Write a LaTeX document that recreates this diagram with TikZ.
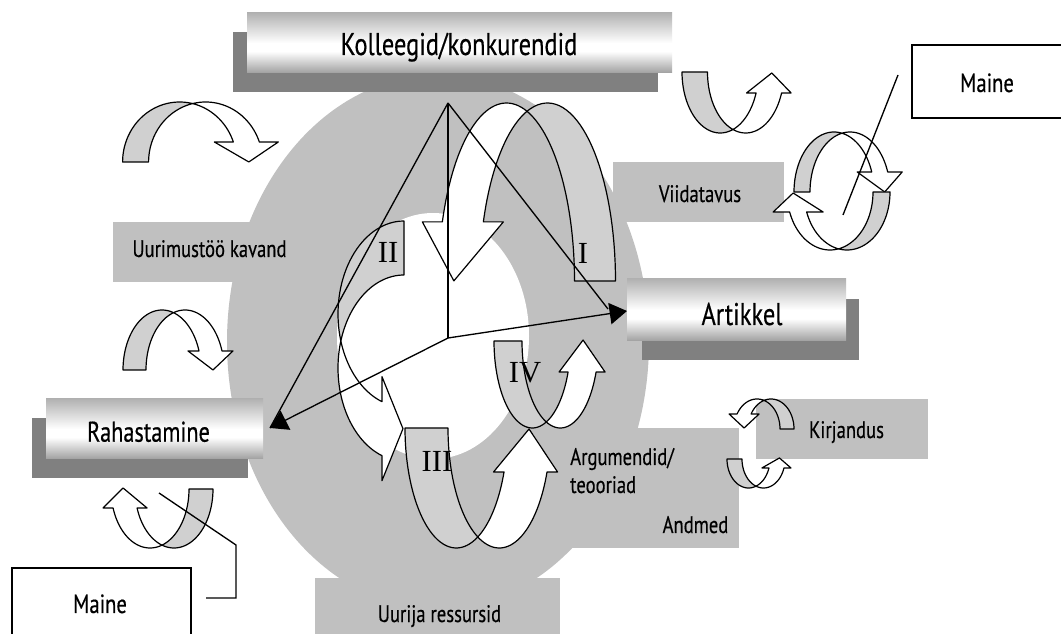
\documentclass[tikz,border=0pt]{standalone}
\usepackage{fontspec}
\setmainfont{PT Sans}
\newfontfamily\labfont[FakeStretch=0.78,FakeBold=0.4]{PT Sans}
\newfontfamily\romfont{Liberation Serif}
\usetikzlibrary{arrows.meta}
\definecolor{ringgray}{HTML}{C0C0C0}
\definecolor{bandgray}{HTML}{D0D0D0}
\definecolor{shadowgray}{HTML}{808080}
\definecolor{cyltop}{HTML}{B2B2B2}
\definecolor{cylbot}{HTML}{A0A0A0}
\pgfdeclareverticalshading{cylshade}{100bp}{color(0bp)=(cylbot); color(25bp)=(cylbot); color(43bp)=(white); color(50bp)=(white); color(75bp)=(cyltop); color(100bp)=(cyltop)}

% #1 transform, #2 a, #3 b, #4 offset d, #5 tail angle, #6 head angle, #7 head ext, #8 tip dx, #9 head length
\newcommand{\ribarrow}[9]{%
  \begin{scope}[#1]
    \pgfmathsetmacro\rtc{acos(#4/(2*#2))}
    \pgfmathsetmacro\rtcb{180-\rtc}
    \pgfmathsetmacro\rhy{#3*sin(#6)}
    \pgfmathsetmacro\rhxi{#2*cos(#6)}
    \pgfmathsetmacro\rhxo{#4+#2*cos(#6)}
    \filldraw[ribshade] plot[domain=\rtc:#5,samples=36] ({#2*cos(\x)},{#3*sin(\x)})
      -- plot[domain=#5:\rtcb,samples=36] ({#4+#2*cos(\x)},{#3*sin(\x)}) -- cycle;
    \filldraw[ribwhite] plot[domain=\rtc:#6,samples=36] ({#2*cos(\x)},{#3*sin(\x)})
      -- ({\rhxi-#7},{\rhy}) -- ({(\rhxi+\rhxo)/2+#8},{\rhy-#9}) -- ({\rhxo+#7},{\rhy}) -- ({\rhxo},{\rhy})
      -- plot[domain=#6:\rtcb,samples=36] ({#4+#2*cos(\x)},{#3*sin(\x)}) -- cycle;
  \end{scope}}

\tikzset{
  ribshade/.style={fill=bandgray, draw=black, line width=0.9pt, line join=round},
  ribwhite/.style={fill=white, draw=black, line width=0.9pt, line join=round},
  labelbox/.style={fill=ringgray, draw=none, inner sep=0pt, outer sep=0pt},
  shadowbox/.style={fill=shadowgray, draw=none, inner sep=0pt, outer sep=0pt},
  cylbox/.style={shading=cylshade, draw=none, inner sep=0pt, outer sep=0pt},
  whitebox/.style={fill=white, draw=black, line width=1pt, inner sep=0pt, outer sep=0pt},
  conn/.style={draw=black, line width=1pt},
  arrowconn/.style={conn, -{Triangle[length=13pt,width=16pt]}},
  bigtxt/.style={font=\labfont\fontsize{23.5}{28}\selectfont, anchor=base, inner sep=0pt},
  medtxt/.style={font=\labfont\fontsize{21.4}{26}\selectfont, anchor=base, inner sep=0pt},
  mainetxt/.style={font=\labfont\fontsize{19.8}{24}\selectfont, anchor=base, inner sep=0pt},
  smalltxt/.style={font=\labfont\fontsize{17.9}{22}\selectfont, anchor=base, inner sep=0pt},
  romtxt/.style={font=\romfont\fontsize{23}{28}\selectfont, anchor=base, inner sep=0pt},
}

\begin{document}
\begin{tikzpicture}[x=0.75pt,y=0.75pt]
\useasboundingbox (0,0) rectangle (1061,-634);
\fill[white] (0,0) rectangle (1061,-634);

% ring
\fill[ringgray] (438,-342) ellipse [x radius=158.25pt, y radius=200.25pt];
\fill[white] (433,-336) ellipse [x radius=72pt, y radius=92.25pt];

% gray label boxes
\node[labelbox, minimum width=140.25pt, minimum height=45pt] (kavbox) at (206.5,-252) {};
\node[labelbox, minimum width=128.25pt, minimum height=45pt] (viibox) at (698.5,-192) {};
\node[labelbox, minimum width=129pt, minimum height=45pt] (kirbox) at (842,-429) {};
\node[labelbox, minimum width=134.25pt, minimum height=90pt] (argbox) at (649.5,-488) {};
\node[labelbox, minimum width=183.75pt, minimum height=42pt] (uurbox) at (437.5,-606) {};

% shadowed cylinder boxes
\node[shadowbox, minimum width=318.75pt, minimum height=45pt] (kolshadow) at (445.5,-62) {};
\node[cylbox, minimum width=318.75pt, minimum height=45pt] (kolbox) at (459.5,-43) {};
\node[shadowbox, minimum width=162.75pt, minimum height=45.75pt] (artshadow) at (750.5,-329.5) {};
\node[cylbox, minimum width=164.25pt, minimum height=46.5pt] (artbox) at (736.5,-310) {};
\node[shadowbox, minimum width=162pt, minimum height=45pt] (rahshadow) at (140,-448) {};
\node[cylbox, minimum width=162.75pt, minimum height=45pt] (rahbox) at (154.5,-429) {};

% white Maine boxes
\node[whitebox, minimum width=118.5pt, minimum height=54.75pt] (mainetr) at (991,-81.5) {};
\node[whitebox, minimum width=134.25pt, minimum height=54pt] (mainebl) at (101.5,-604) {};

% ribbon arrows
\ribarrow{shift={(547.5,-281)}, xscale=-1}{68}{178}{41}{180}{19.4}{20}{9}{59}
\ribarrow{shift={(179.6,-162)}}{57}{60}{26}{180}{19.5}{19}{2.5}{20}
\ribarrow{shift={(162,-370)}}{39}{60}{23}{180}{18.5}{11}{2.5}{19}
\ribarrow{shift={(404,-314)}, rotate=90, xscale=-1}{93}{66}{54}{180}{19.5}{25}{0}{21}
\ribarrow{shift={(456.3,-428)}, yscale=-1}{51.3}{120}{43}{180}{21.5}{10.5}{3.5}{43}
\ribarrow{shift={(532.3,-341)}, yscale=-1}{38.3}{87}{28}{180}{20.9}{9}{1}{32}
\ribarrow{shift={(720.2,-72)}, yscale=-1}{38.2}{61}{25.5}{180}{20.1}{9.5}{3}{20}
\ribarrow{shift={(174,-489)}, rotate=180}{39}{59}{24}{180}{18.8}{10}{2}{20}
\ribarrow{shift={(834,-192)}}{40}{60}{16}{180}{19.5}{14.5}{5}{20}
\ribarrow{shift={(847,-192)}, rotate=180}{43}{58}{17}{180}{20.2}{16.5}{5}{19}
\ribarrow{shift={(771,-429)}, xscale=-1}{23}{30}{14}{180}{30}{8}{0}{14}
\ribarrow{shift={(748.5,-459)}, yscale=-1}{21.5}{29}{15}{180}{18}{7}{3}{10}

% connectors
\coordinate (apex) at (448,-103);
\coordinate (hub) at (448,-338);
\coordinate (arttip) at (627,-311);
\coordinate (artbase) at (608,-309);
\coordinate (rahtip) at (270,-428);
\draw[conn] (apex) -- (hub);
\draw[conn] (apex) -- (rahtip);
\draw[conn] (apex) -- (artbase);
\draw[arrowconn] (hub) -- (arttip);
\draw[arrowconn] (hub) -- (rahtip);

\coordinate (mtr1) at (898,-75);
\coordinate (mtr2) at (843,-215);
\draw[conn] (mtr1) -- (mtr2);
\coordinate (mbl1) at (206,-598);
\coordinate (mbl2) at (236,-598);
\coordinate (mbl3) at (236,-545);
\coordinate (mbl4) at (159,-493);
\draw[conn] (mbl1) -- (mbl2) -- (mbl3) -- (mbl4);

% texts
\node[bigtxt] (koltext) at (459,-55) {Kolleegid/konkurendid};
\node[bigtxt] (arttext) at (742,-325) {Artikkel};
\node[medtxt] (rahtext) at (148.5,-441.7) {Rahastamine};
\node[mainetxt] (mainetrtext) at (987,-92) {Maine};
\node[mainetxt] (mainebltext) at (100,-613) {Maine};
\node[smalltxt] (kavtext) at (209.5,-257) {Uurimustöö kavand};
\node[smalltxt] (viitext) at (700,-202) {Viidatavus};
\node[smalltxt] (kirtext) at (846.5,-438) {Kirjandus};
\node[smalltxt, anchor=base west] (argtext) at (570,-465) {Argumendid/};
\node[smalltxt, anchor=base west] (teotext) at (570,-493) {teooriad};
\node[smalltxt] (andtext) at (695.5,-533) {Andmed};
\node[smalltxt] (uurtext) at (439.5,-622) {Uurija ressursid};
\node[romtxt] (romII) at (388,-263) {II};
\node[romtxt] (romI) at (583,-264) {I};
\node[romtxt] (romIII) at (437,-472) {III};
\node[romtxt] (romIV) at (525,-383) {IV};
\end{tikzpicture}
\end{document}
